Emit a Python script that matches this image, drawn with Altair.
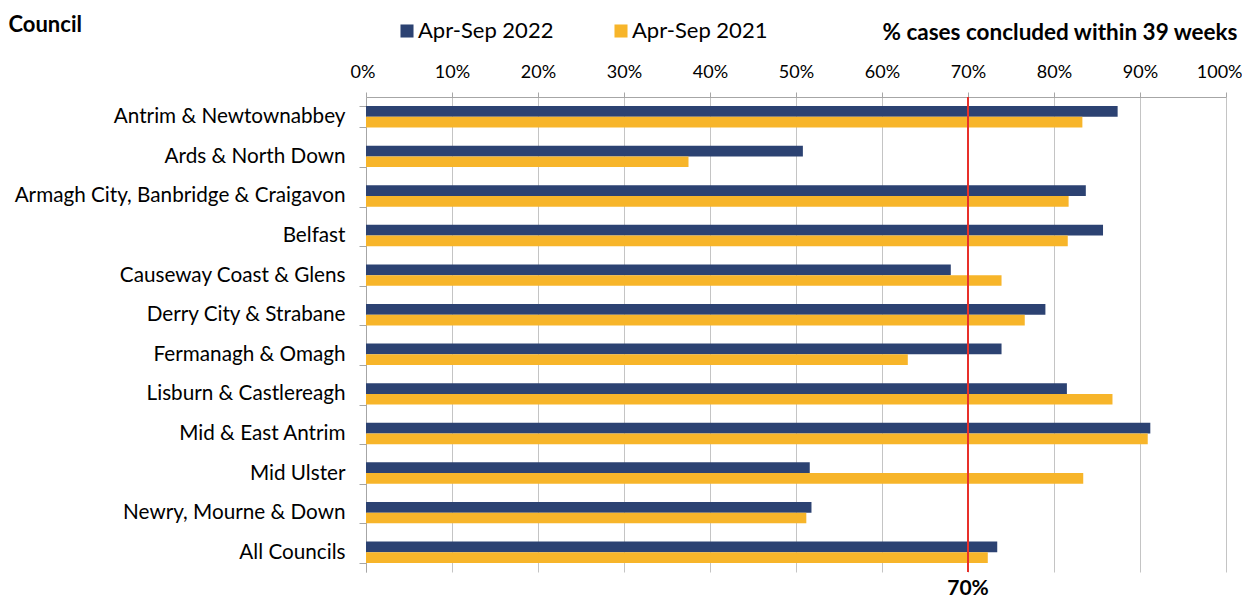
import altair as alt
import pandas as pd

councils = [
    "Antrim & Newtownabbey",
    "Ards & North Down",
    "Armagh City, Banbridge & Craigavon",
    "Belfast",
    "Causeway Coast & Glens",
    "Derry City & Strabane",
    "Fermanagh & Omagh",
    "Lisburn & Castlereagh",
    "Mid & East Antrim",
    "Mid Ulster",
    "Newry, Mourne & Down",
    "All Councils",
]
series = ["Apr-Sep 2022", "Apr-Sep 2021"]
v2022 = [87.4, 50.8, 83.7, 85.7, 68.0, 79.0, 73.9, 81.5, 91.2, 51.6, 51.8, 73.4]
v2021 = [83.3, 37.5, 81.7, 81.6, 73.9, 76.6, 63.0, 86.8, 90.9, 83.4, 51.2, 72.3]
target = [70]
target_label = ["70%"]
x_ticks = [0, 10, 20, 30, 40, 50, 60, 70, 80, 90, 100]

rows = []
for c, a, b in zip(councils, v2022, v2021):
    rows.append({"Council": c, "Series": series[0], "Value": a})
    rows.append({"Council": c, "Series": series[1], "Value": b})
df = pd.DataFrame(rows)
tdf = pd.DataFrame({"Value": target, "label": target_label})

FONT = "Lato"
W, H = 860, 475

xaxis = alt.Axis(
    orient="top",
    values=x_ticks,
    labelExpr="datum.value + '%'",
    labelFlush=True,
    labelFlushOffset=16,
    title="% cases concluded within 39 weeks",
    titleFont=FONT,
    titleFontSize=22.5,
    titleFontWeight="bold",
    titleColor="#000000",
    titleAlign="right",
    titleBaseline="middle",
    titleX=871,
    titleY=-65,
    labelFont=FONT,
    labelFontSize=18,
    labelColor="#000000",
    labelPadding=11,
    tickSize=5,
    tickColor="#A6A6A6",
    domainColor="#A6A6A6",
    grid=True,
    gridColor="#C4C4C4",
    gridWidth=1,
)
xscale = alt.Scale(domain=[0, 100], nice=False)

bars = alt.Chart(df).mark_bar().encode(
    x=alt.X("Value:Q", scale=xscale, axis=xaxis),
    y=alt.Y(
        "Council:N",
        sort=councils,
        scale=alt.Scale(paddingInner=0.46, paddingOuter=0.23),
        axis=alt.Axis(
            title="Council",
            titleFont=FONT,
            titleFontSize=22,
            titleFontWeight="bold",
            titleColor="#000000",
            titleAngle=0,
            titleAlign="left",
            titleBaseline="middle",
            titleX=-358,
            titleY=-73,
            labelFont=FONT,
            labelFontSize=20.7,
            labelColor="#000000",
            labelLimit=500,
            labelPadding=14,
            tickSize=7,
            tickBand="extent",
            tickColor="#A6A6A6",
            domainColor="#A6A6A6",
            grid=False,
        ),
    ),
    yOffset=alt.YOffset("Series:N", sort=series, scale=alt.Scale(paddingInner=0, paddingOuter=0)),
    color=alt.Color(
        "Series:N",
        sort=series,
        scale=alt.Scale(domain=series, range=["#2C4272", "#F7B52A"]),
        legend=alt.Legend(
            title=None,
            orient="none",
            legendX=30,
            legendY=-77,
            direction="horizontal",
            symbolType="square",
            symbolSize=170,
            symbolStrokeWidth=0,
            labelFont=FONT,
            labelFontSize=22,
            labelColor="#000000",
            labelOffset=0,
            columnPadding=56,
        ),
    ),
)

rule = alt.Chart(tdf).mark_rule(color="#E8302A", strokeWidth=2).encode(
    x=alt.X("Value:Q", scale=xscale),
)

label = alt.Chart(tdf).mark_text(
    font=FONT, fontSize=21, fontWeight="bold", color="#000000", baseline="middle", dy=17
).encode(
    x=alt.X("Value:Q", scale=xscale),
    y=alt.value(H),
    text="label:N",
)

chart = (
    alt.layer(bars, rule, label)
    .properties(width=W, height=H, padding={"left": 0, "top": 5, "right": 0, "bottom": 0})
    .configure_view(stroke=None)
)

chart.save("out.html", embed_options={"renderer": "svg", "actions": False})
